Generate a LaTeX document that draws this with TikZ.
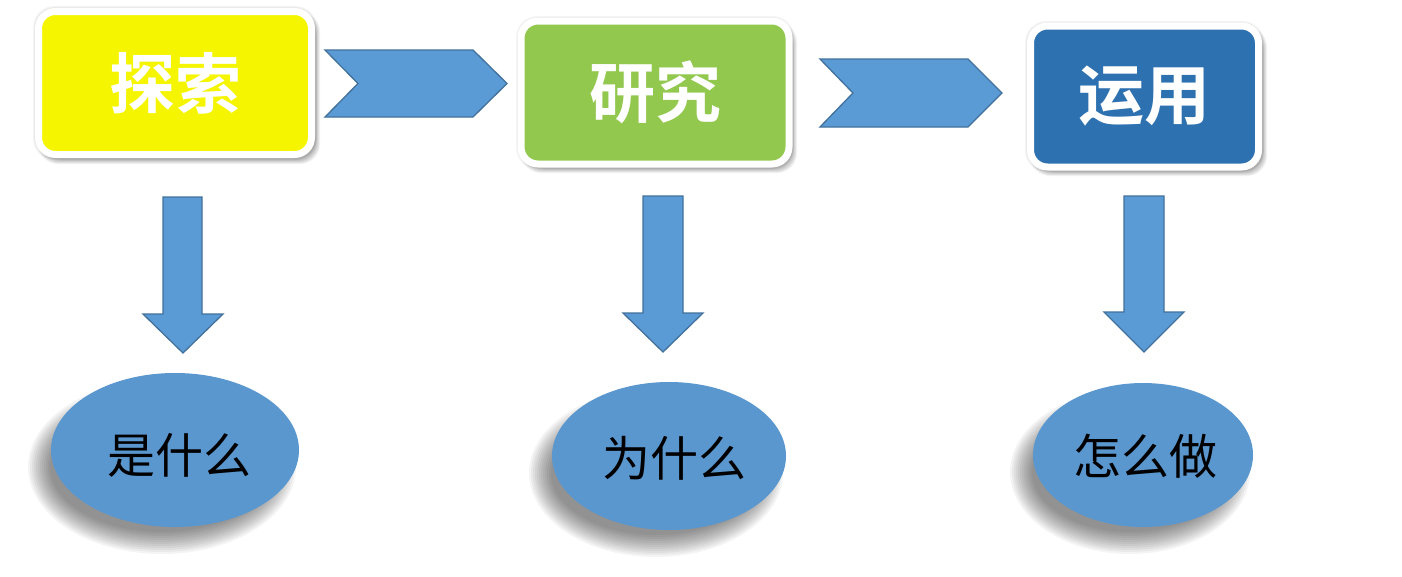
\documentclass[tikz,border=0pt]{standalone}
\usepackage{fontspec}
\newfontfamily\cjk{Noto Sans CJK SC}
\newfontfamily\cjkbold{Noto Sans CJK SC Bold}
\usetikzlibrary{shapes.geometric}
\definecolor{boxyellow}{HTML}{F5F500}
\definecolor{boxgreen}{HTML}{92C84E}
\definecolor{boxblue}{HTML}{2E71B0}
\definecolor{arrowblue}{HTML}{5B9BD5}
\definecolor{arrowline}{HTML}{41719C}
\definecolor{ellblue}{HTML}{5A97CE}
\tikzset{
  stagebox/.style={draw=white, line width=7pt, rounded corners=17pt, inner sep=0pt, outer sep=0pt,
    text=white, font=\cjkbold\fontsize{66}{70}\selectfont},
  shapearrow/.style={fill=arrowblue, draw=arrowline, line width=1.3pt, line join=miter},
  answer/.style={ellipse, fill=ellblue, inner sep=0pt, outer sep=0pt, text=black,
    font=\cjk\fontsize{48}{52}\selectfont},
}
\begin{document}
\begin{tikzpicture}[x=1pt,y=-1pt]
\useasboundingbox (0,0) rectangle (1402,576);
\fill[white] (0,0) rectangle (1402,576);
% box shadows and faint halo
\foreach \cx/\cy/\w/\h in {175/83/280/150, 655/92.5/274/149, 1144.5/96.5/235/147}{
  \foreach \i in {0,...,3}{
    \fill[black, opacity=0.03, rounded corners=21pt]
      ({\cx-\w/2-2+\i*0.7},{\cy-\h/2-2+\i*0.7}) rectangle ({\cx+\w/2+2-\i*0.7},{\cy+\h/2+2-\i*0.7});
  }
  \foreach \i in {0,...,5}{
    \fill[black, opacity=0.05, rounded corners=20pt]
      ({\cx-\w/2+3+\i*0.8},{\cy-\h/2+4+\i*0.8}) rectangle ({\cx+\w/2+3-\i*0.8+2},{\cy+\h/2+4-\i*0.8+2});
  }
}
% ellipse shadows
\foreach \cx/\cy/\rx/\ry in {175/450/124/77, 669/456/117/74, 1143/455/110/72}{
  \foreach \i in {0,...,11}{
    \fill[black, opacity=0.045] ({\cx-13},{\cy+17}) ellipse ({\rx+10-2*\i} and {\ry+10-2*\i});
  }
}
% stage boxes
\node[stagebox, fill=boxyellow, minimum width=273pt, minimum height=143pt] (b1) at (175,83) {探索};
\node[stagebox, fill=boxgreen, minimum width=268pt, minimum height=143pt] (b2) at (655,92.5) {研究};
\node[stagebox, fill=boxblue, minimum width=228pt, minimum height=141pt] (b3) at (1144.5,96.5) {运用};
% chevrons
\draw[shapearrow] (325,50) -- (473,50) -- (507,83.5) -- (473,117) -- (325,117) -- (358,83.5) -- cycle;
\draw[shapearrow] (820,59) -- (968,59) -- (1002,93) -- (968,127) -- (820,127) -- (853,93) -- cycle;
% down arrows
\draw[shapearrow] (163,197) -- (202,197) -- (202,314) -- (223,314) -- (183,353) -- (143,314) -- (163,314) -- cycle;
\draw[shapearrow] (643,196) -- (683,196) -- (683,313) -- (703,313) -- (663,352) -- (623,313) -- (643,313) -- cycle;
\draw[shapearrow] (1124,196) -- (1164,196) -- (1164,312) -- (1184,312) -- (1144,352) -- (1104,312) -- (1124,312) -- cycle;
% answers
\node[answer, minimum width=248pt, minimum height=154pt] (e1) at (175,450) {};
\node[answer, minimum width=234pt, minimum height=148pt] (e2) at (669,456) {};
\node[answer, minimum width=220pt, minimum height=144pt] (e3) at (1143,455) {};
\node[answer, fill=none] (t1) at (179,455) {是什么};
\node[answer, fill=none] (t2) at (674,458) {为什么};
\node[answer, fill=none] (t3) at (1145,456) {怎么做};
\end{tikzpicture}
\end{document}
